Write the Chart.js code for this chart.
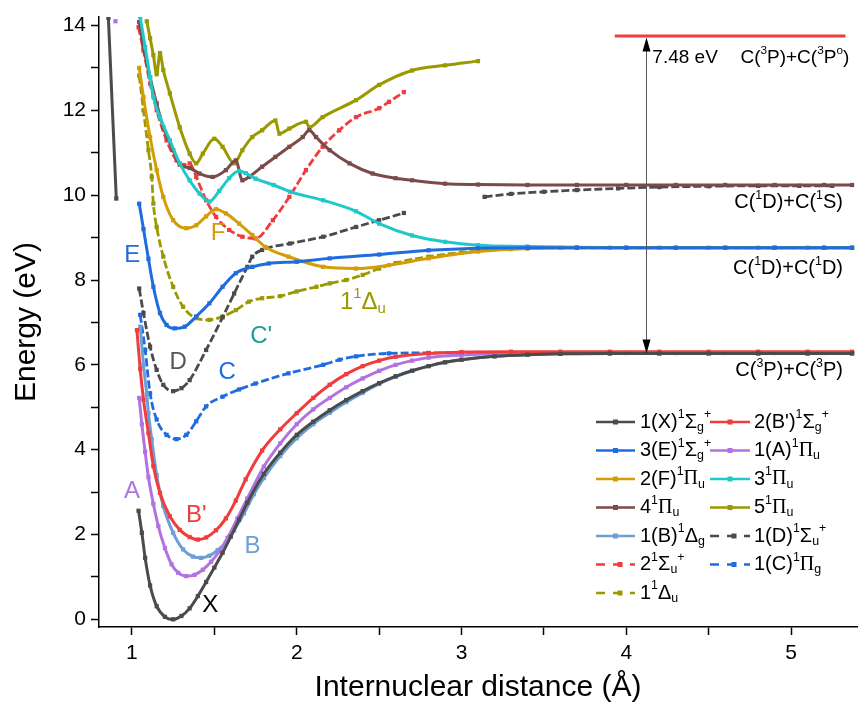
<!DOCTYPE html>
<html>
<head>
<meta charset="utf-8">
<script src="https://cdn.jsdelivr.net/npm/chart.js@4.4.1/dist/chart.umd.min.js"></script>
<style>
  html, body { margin: 0; padding: 0; background: #ffffff; }
  #wrap { width: 860px; height: 708px; }
</style>
</head>
<body>
<div id="wrap"><canvas id="pec" width="860" height="708"></canvas></div>
<script>
// Potential energy curves of C2 singlet states: [internuclear distance (Å), energy (eV)]
// A [r, null] entry breaks the line.
const sX = [[0.857,14.18],[0.905,9.92],[0.95,null],[1.04,2.56],[1.06,2.04],[1.08,1.45],[1.11,0.8],[1.15,0.31],[1.20,0.06],[1.25,0.0],[1.30,0.08],[1.35,0.26],[1.40,0.55],[1.45,0.88],[1.50,1.22],[1.55,1.57],[1.60,1.95],[1.65,2.35],[1.70,2.75],[1.80,3.43],[1.90,3.93],[2.0,4.35],[2.1,4.66],[2.2,4.93],[2.3,5.17],[2.4,5.38],[2.5,5.57],[2.6,5.73],[2.7,5.86],[2.8,5.97],[2.9,6.06],[3.0,6.12],[3.2,6.2],[3.4,6.24],[3.6,6.26],[3.9,6.27],[4.2,6.27],[4.5,6.27],[4.8,6.27],[5.1,6.27],[5.37,6.27]];
const sBp = [[1.03,6.82],[1.05,5.9],[1.07,5.18],[1.10,4.39],[1.13,3.61],[1.17,2.98],[1.23,2.43],[1.29,2.11],[1.35,1.94],[1.40,1.88],[1.45,1.93],[1.51,2.1],[1.57,2.38],[1.63,2.8],[1.69,3.3],[1.79,3.98],[1.9,4.48],[2.0,4.86],[2.1,5.22],[2.2,5.53],[2.3,5.78],[2.4,5.97],[2.5,6.1],[2.6,6.19],[2.8,6.27],[3.0,6.3],[3.3,6.31],[3.6,6.31],[3.9,6.31],[4.2,6.31],[4.5,6.31],[4.8,6.31],[5.1,6.31],[5.37,6.31]];
const sE = [[1.044,9.8],[1.07,9.2],[1.10,8.5],[1.13,7.84],[1.17,7.22],[1.21,6.94],[1.26,6.86],[1.32,6.9],[1.39,7.14],[1.47,7.45],[1.55,7.84],[1.63,8.16],[1.73,8.31],[1.83,8.39],[2.0,8.43],[2.2,8.51],[2.5,8.6],[2.8,8.7],[3.1,8.75],[3.4,8.76],[3.7,8.76],[4.0,8.76],[4.3,8.76],[4.6,8.76],[4.9,8.76],[5.2,8.76],[5.37,8.76]];
const sA = [[0.90,14.1],[0.95,null],[1.044,5.22],[1.06,4.6],[1.08,3.95],[1.10,3.35],[1.13,2.72],[1.16,2.2],[1.20,1.68],[1.24,1.3],[1.28,1.1],[1.33,1.02],[1.38,1.05],[1.43,1.17],[1.48,1.36],[1.53,1.6],[1.58,1.92],[1.64,2.38],[1.70,2.85],[1.80,3.6],[1.90,4.15],[2.0,4.6],[2.1,4.95],[2.2,5.22],[2.3,5.47],[2.4,5.68],[2.5,5.86],[2.6,6.0],[2.7,6.1],[2.8,6.17],[3.0,6.23],[3.2,6.26],[3.5,6.27],[3.9,6.27],[4.2,6.27],[4.5,6.27],[4.8,6.27],[5.1,6.27],[5.37,6.27]];
const sF = [[1.044,13.0],[1.07,12.31],[1.11,11.37],[1.15,10.59],[1.19,9.96],[1.25,9.41],[1.33,9.22],[1.39,9.29],[1.45,9.5],[1.51,9.67],[1.57,9.57],[1.65,9.33],[1.73,9.06],[1.81,8.78],[1.95,8.55],[2.16,8.31],[2.36,8.27],[2.56,8.35],[2.8,8.51],[3.1,8.67],[3.4,8.74],[3.7,8.76],[4.0,8.76],[4.3,8.76],[4.6,8.76],[4.9,8.76],[5.2,8.76],[5.37,8.76]];
const s3Pu = [[1.05,14.2],[1.08,13.49],[1.11,12.78],[1.13,12.31],[1.17,11.84],[1.23,11.29],[1.29,10.75],[1.35,10.35],[1.41,10.04],[1.47,9.85],[1.53,10.1],[1.59,10.4],[1.65,10.57],[1.69,10.52],[1.75,10.39],[1.86,10.24],[1.96,10.08],[2.16,9.88],[2.36,9.62],[2.5,9.33],[2.7,9.05],[2.9,8.9],[3.1,8.82],[3.4,8.79],[3.7,8.77],[4.0,8.76],[4.3,8.76],[4.6,8.76],[4.9,8.76],[5.2,8.76],[5.37,8.76]];
const s4Pu = [[1.044,14.08],[1.07,13.49],[1.11,12.78],[1.15,12.16],[1.19,11.6],[1.25,11.06],[1.29,10.72],[1.35,10.64],[1.41,10.51],[1.49,10.43],[1.57,10.59],[1.63,10.82],[1.67,10.35],[1.71,10.43],[1.79,10.67],[1.87,10.9],[1.955,11.14],[2.036,11.37],[2.076,11.53],[2.117,11.37],[2.2,11.06],[2.32,10.75],[2.46,10.51],[2.6,10.4],[2.7,10.35],[2.9,10.27],[3.1,10.25],[3.4,10.24],[3.7,10.24],[4.0,10.24],[4.3,10.24],[4.6,10.24],[4.9,10.24],[5.2,10.24],[5.37,10.24]];
const s5Pu = [[1.09,14.1],[1.11,13.7],[1.13,13.3],[1.15,12.85],[1.17,13.35],[1.19,12.95],[1.23,12.4],[1.29,11.6],[1.35,10.98],[1.39,10.75],[1.43,10.98],[1.50,11.33],[1.55,11.14],[1.62,10.75],[1.67,11.06],[1.73,11.37],[1.79,11.53],[1.87,11.76],[1.895,11.45],[1.955,11.57],[2.056,11.73],[2.076,11.6],[2.157,11.84],[2.36,12.24],[2.5,12.6],[2.7,12.94],[2.9,13.06],[3.1,13.16]];
const sB = [[1.05,6.9],[1.07,6.0],[1.09,5.3],[1.10,4.86],[1.12,4.24],[1.15,3.4],[1.19,2.67],[1.25,2.04],[1.31,1.65],[1.37,1.48],[1.42,1.45],[1.47,1.5],[1.52,1.63],[1.57,1.82],[1.62,2.1],[1.68,2.5],[1.74,2.95],[1.80,3.33],[1.9,3.85],[2.0,4.27],[2.1,4.6],[2.2,4.87],[2.3,5.12],[2.4,5.34],[2.5,5.55],[2.6,5.72],[2.7,5.86],[2.8,5.97],[2.9,6.06],[3.0,6.12],[3.2,6.2],[3.4,6.24],[3.6,6.26],[3.9,6.27],[4.2,6.27],[4.5,6.27],[4.8,6.27],[5.1,6.27],[5.37,6.27]];
const sD = [[1.044,7.8],[1.07,7.22],[1.11,6.43],[1.15,5.88],[1.19,5.53],[1.25,5.38],[1.30,5.45],[1.35,5.64],[1.45,6.35],[1.55,7.12],[1.62,7.68],[1.70,8.31],[1.73,8.55],[1.79,8.71],[1.96,8.86],[2.16,9.02],[2.36,9.25],[2.5,9.41],[2.65,9.58],[2.9,null],[3.14,9.96],[3.3,10.03],[3.5,10.08],[3.7,10.12],[3.95,10.16],[4.2,10.19],[4.5,10.21],[4.8,10.22],[5.05,10.22],[5.25,10.22]];
const s2Su = [[1.04,13.96],[1.07,13.41],[1.11,12.63],[1.15,12.0],[1.21,11.29],[1.27,10.82],[1.31,10.71],[1.35,10.75],[1.39,10.43],[1.45,9.88],[1.51,9.49],[1.59,9.18],[1.67,9.02],[1.75,8.98],[1.855,9.41],[1.955,9.96],[2.056,10.59],[2.157,11.14],[2.258,11.53],[2.36,11.84],[2.5,12.05],[2.56,12.2],[2.65,12.43]];
const sC = [[1.05,7.18],[1.08,6.35],[1.11,5.33],[1.15,4.71],[1.21,4.35],[1.27,4.25],[1.33,4.35],[1.39,4.67],[1.45,5.02],[1.55,5.25],[1.65,5.42],[1.75,5.56],[1.95,5.8],[2.16,6.0],[2.26,6.12],[2.36,6.2],[2.56,6.27],[2.8,6.28],[3.1,6.28],[3.4,6.28],[3.7,6.28],[4.0,6.28],[4.3,6.28],[4.6,6.28],[4.9,6.28],[5.2,6.28],[5.37,6.28]];
const s1Du = [[1.044,12.82],[1.07,12.0],[1.10,11.06],[1.12,10.43],[1.13,9.8],[1.15,9.25],[1.19,8.55],[1.25,7.84],[1.31,7.37],[1.39,7.1],[1.47,7.06],[1.55,7.14],[1.63,7.29],[1.71,7.49],[1.79,7.57],[1.9,7.62],[2.0,7.73],[2.12,7.84],[2.2,7.92],[2.3,8.0],[2.4,8.12],[2.5,8.27],[2.6,8.4],[2.8,8.55],[3.0,8.65],[3.3,8.73],[3.6,8.76],[3.9,8.76],[4.2,8.76],[4.5,8.76],[4.8,8.76],[5.1,8.76],[5.37,8.76]];

// Dissociation limits and the C(3P)+C(3Po) gap (eV)
const limit3P3P = 6.27;
const gap3P3Po = 7.48;

// Axis ticks
const xTickValues = [1, 1.5, 2, 2.5, 3, 3.5, 4, 4.5, 5];
const yTickValues = [0, 1, 2, 3, 4, 5, 6, 7, 8, 9, 10, 11, 12, 13, 14];

const SANS = '"Liberation Sans", Arial, Helvetica, sans-serif';
const SERIF = '"Liberation Serif", "Times New Roman", serif';

const series = [
  { label: '1(X)^1Σ_g^+', pts: sX,   color: '#4b4b4b', dash: false },
  { label: "2(B')^1Σ_g^+", pts: sBp, color: '#f03c3c', dash: false },
  { label: '3(E)^1Σ_g^+', pts: sE,   color: '#1f6be0', dash: false },
  { label: '1(A)^1Π_u',   pts: sA,   color: '#b272e2', dash: false },
  { label: '2(F)^1Π_u',   pts: sF,   color: '#d49d08', dash: false },
  { label: '3^1Π_u',      pts: s3Pu, color: '#20c9c9', dash: false },
  { label: '4^1Π_u',      pts: s4Pu, color: '#7b4a4a', dash: false },
  { label: '5^1Π_u',      pts: s5Pu, color: '#9b9900', dash: false },
  { label: '1(B)^1Δ_g',   pts: sB,   color: '#6c9fd6', dash: false },
  { label: '1(D)^1Σ_u^+', pts: sD,   color: '#4b4b4b', dash: true },
  { label: '2^1Σ_u^+',    pts: s2Su, color: '#f03c3c', dash: true },
  { label: '1(C)^1Π_g',   pts: sC,   color: '#1f6be0', dash: true },
  { label: '1^1Δ_u',      pts: s1Du, color: '#9b9900', dash: true }
];

// ---- rich text (superscript ^c, subscript _c) ----
function richItems(ctx, str, size) {
  const items = [];
  for (let i = 0; i < str.length; i++) {
    let ch = str[i], mode = 'n';
    if ((ch === '^' || ch === '_') && i + 1 < str.length) { mode = ch === '^' ? 'sup' : 'sub'; ch = str[++i]; }
    const s = mode === 'n' ? size : size * 0.62;
    const fam = ch === 'Π' ? SERIF : SANS;
    const font = s.toFixed(2) + 'px ' + fam;
    ctx.font = font;
    const w = ctx.measureText(ch).width;
    const dy = mode === 'sup' ? -size * 0.36 : (mode === 'sub' ? size * 0.26 : 0);
    items.push({ ch, font, w, dy });
  }
  return items;
}
function drawRich(ctx, str, x, y, size, color, align) {
  const items = richItems(ctx, str, size);
  const total = items.reduce((a, it) => a + it.w, 0);
  let cx = align === 'right' ? x - total : (align === 'center' ? x - total / 2 : x);
  ctx.save();
  ctx.fillStyle = color;
  ctx.textAlign = 'left';
  ctx.textBaseline = 'middle';
  items.forEach(it => { ctx.font = it.font; ctx.fillText(it.ch, cx, y + it.dy); cx += it.w; });
  ctx.restore();
}

// ---- labels drawn on the plot ----
const curveLabels = [
  { t: 'E',  x: 1.002, y: 8.58, c: '#1f6be0' },
  { t: 'F',  x: 1.523, y: 9.09, c: '#d49d08' },
  { t: 'D',  x: 1.28,  y: 6.06, c: '#555555' },
  { t: "C'", x: 1.784, y: 6.67, c: '#1a9e8f' },
  { t: 'C',  x: 1.578, y: 5.82, c: '#1f6be0' },
  { t: 'A',  x: 1.0,   y: 3.02, c: '#b272e2' },
  { t: "B'", x: 1.39,  y: 2.46, c: '#f03c3c' },
  { t: 'B',  x: 1.732, y: 1.73, c: '#6c9fd6' },
  { t: 'X',  x: 1.475, y: 0.32, c: '#000000' }
];
const limitLabels = [
  { t: 'C(^1D)+C(^1S)', x: 5.315, y: 9.83 },
  { t: 'C(^1D)+C(^1D)', x: 5.315, y: 8.26 },
  { t: 'C(^3P)+C(^3P)', x: 5.315, y: 5.87 }
];

const annotations = {
  id: 'annotations',
  afterDatasetsDraw(chart) {
    const { ctx, scales: { x, y } } = chart;
    const top = limit3P3P + gap3P3Po;
    // upper limit line
    ctx.save();
    ctx.strokeStyle = '#f03c3c';
    ctx.lineWidth = 3;
    ctx.beginPath();
    ctx.moveTo(x.getPixelForValue(3.93), y.getPixelForValue(top));
    ctx.lineTo(x.getPixelForValue(5.33), y.getPixelForValue(top));
    ctx.stroke();
    // double-headed arrow for the gap
    const ax = Math.round(x.getPixelForValue(4.12)) + 0.5;
    const y1 = y.getPixelForValue(top) + 1.5, y2 = y.getPixelForValue(limit3P3P);
    ctx.strokeStyle = '#5a5a5a';
    ctx.lineWidth = 1;
    ctx.beginPath(); ctx.moveTo(ax, y1 + 10); ctx.lineTo(ax, y2 - 10); ctx.stroke();
    ctx.fillStyle = '#000';
    ctx.beginPath(); ctx.moveTo(ax, y1); ctx.lineTo(ax - 4, y1 + 14); ctx.lineTo(ax + 4, y1 + 14); ctx.closePath(); ctx.fill();
    ctx.beginPath(); ctx.moveTo(ax, y2); ctx.lineTo(ax - 4, y2 - 14); ctx.lineTo(ax + 4, y2 - 14); ctx.closePath(); ctx.fill();
    ctx.restore();

    drawRich(ctx, gap3P3Po.toFixed(2) + ' eV', x.getPixelForValue(4.158), y.getPixelForValue(13.24), 19, '#000', 'left');
    drawRich(ctx, 'C(^3P)+C(^3P^o)', x.getPixelForValue(5.353), y.getPixelForValue(13.24), 19, '#000', 'right');
    limitLabels.forEach(l => drawRich(ctx, l.t, x.getPixelForValue(l.x), y.getPixelForValue(l.y), 20, '#000', 'right'));
    curveLabels.forEach(l => drawRich(ctx, l.t, x.getPixelForValue(l.x), y.getPixelForValue(l.y), 24, l.c, 'center'));
    drawRich(ctx, '1^1Δ_u', x.getPixelForValue(2.262), y.getPixelForValue(7.47), 24, '#9b9900', 'left');
  }
};

// ---- two-column legend ----
const legendBox = {
  id: 'legendBox',
  afterDraw(chart) {
    const ctx = chart.ctx;
    const cols = [{ x0: 596, x1: 635, tx: 640 }, { x0: 710, x1: 750, tx: 754 }];
    const rowTop = 422, rowStep = 28.5;
    series.forEach((s, i) => {
      const col = cols[i % 2];
      const yy = rowTop + Math.floor(i / 2) * rowStep;
      ctx.save();
      ctx.strokeStyle = s.color;
      ctx.lineWidth = 2.5;
      ctx.setLineDash(s.dash ? [9, 8] : []);
      ctx.beginPath(); ctx.moveTo(col.x0, yy); ctx.lineTo(col.x1, yy); ctx.stroke();
      ctx.setLineDash([]);
      ctx.fillStyle = s.color;
      const mx = s.dash ? col.x0 + 24 : (col.x0 + col.x1) / 2;
      ctx.fillRect(mx - 2.5, yy - 2.5, 5, 5);
      ctx.restore();
      drawRich(ctx, s.label, col.tx, yy, 20, '#000', 'left');
    });
  }
};

const datasets = series.map(s => ({
  label: s.label,
  data: s.pts.map(([r, e]) => ({ x: r, y: e })),
  showLine: true,
  spanGaps: false,
  borderColor: s.color,
  backgroundColor: s.color,
  borderWidth: s.dash ? 2.8 : 3,
  borderDash: s.dash ? [8, 3] : [],
  cubicInterpolationMode: 'monotone',
  pointStyle: 'rect',
  pointRadius: 3,
  pointBorderWidth: 0,
  pointBackgroundColor: s.color,
  pointHoverRadius: 3
}));

new Chart(document.getElementById('pec'), {
  type: 'scatter',
  data: { datasets },
  options: {
    responsive: false,
    animation: false,
    events: [],
    layout: { padding: { left: 0, right: 2, top: 17, bottom: 0 } },
    plugins: { legend: { display: false }, tooltip: { enabled: false } },
    scales: {
      x: {
        type: 'linear', min: 0.8, max: 5.4,
        afterBuildTicks: s => { s.ticks = xTickValues.map(v => ({ value: v })); },
        afterFit: s => { s.height = 81; s.paddingLeft = 0; s.paddingRight = 0; },
        grid: { drawOnChartArea: false, drawTicks: true, tickLength: 8, tickWidth: 1.5, tickColor: '#000' },
        border: { display: true, color: '#000', width: 1.5 },
        ticks: {
          autoSkip: false, maxRotation: 0, padding: 6, color: '#000',
          font: { family: SANS, size: 21 },
          callback: v => Number.isInteger(v) ? String(v) : ''
        },
        title: { display: true, text: 'Internuclear distance (Å)', color: '#000', font: { family: SANS, size: 30 }, padding: { top: 0, bottom: 2 } }
      },
      y: {
        type: 'linear', min: -0.18, max: 14.2,
        afterBuildTicks: s => { s.ticks = yTickValues.map(v => ({ value: v })); },
        afterFit: s => { s.width = 99; s.paddingTop = 0; s.paddingBottom = 0; },
        grid: { drawOnChartArea: false, drawTicks: true, tickLength: 8, tickWidth: 1.5, tickColor: '#000' },
        border: { display: true, color: '#000', width: 1.5 },
        ticks: {
          autoSkip: false, padding: 5, color: '#000',
          font: { family: SANS, size: 21 },
          callback: v => (v % 2 === 0) ? String(v) : ''
        },
        title: { display: true, text: 'Energy (eV)', color: '#000', font: { family: SANS, size: 30 }, padding: { top: 9, bottom: 0 } }
      }
    }
  },
  plugins: [annotations, legendBox]
});
</script>
</body>
</html>
